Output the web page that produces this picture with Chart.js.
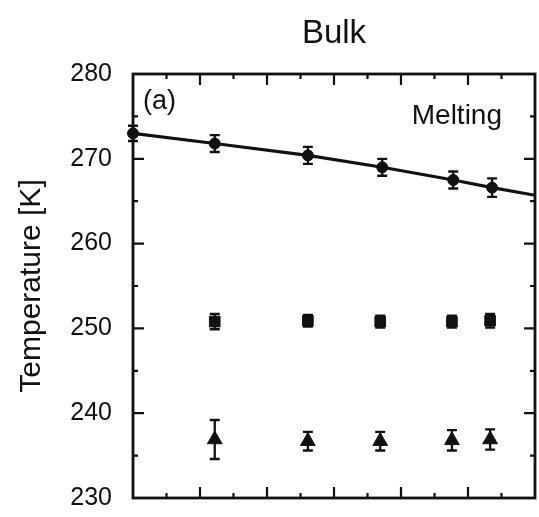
<!DOCTYPE html>
<html>
<head>
<meta charset="utf-8">
<script src="https://cdn.jsdelivr.net/npm/chart.js@4/dist/chart.umd.min.js"></script>
<style>
html, body { margin: 0; padding: 0; background: #fff; }
#wrap { width: 539px; height: 517px; }
</style>
</head>
<body>
<div id="wrap"><canvas id="grafica"></canvas></div>
<script>
// posiciones en x (el eje no tiene etiquetas en la figura)
var xFusion = [0, 1.22, 2.61, 3.72, 4.78, 5.36];
var tFusion = [273.0, 271.8, 270.4, 269.0, 267.5, 266.6];
var errFusion = [0.9, 1.0, 1.0, 1.0, 1.0, 1.1];

// linea que pasa por los puntos de fusion hasta el borde
var xLinea = [0, 1.22, 2.61, 3.72, 4.78, 5.36, 6];
var tLinea = [273.0, 271.8, 270.4, 269.0, 267.5, 266.6, 265.7];

var xOtros = [1.22, 2.61, 3.69, 4.76, 5.33];
var tCuadros = [250.8, 250.9, 250.8, 250.8, 250.9];
var errCuadros = [0.9, 0.7, 0.7, 0.7, 0.8];
var tTriang = [236.9, 236.7, 236.7, 236.8, 236.9];
var errTriang = [2.3, 1.1, 1.1, 1.2, 1.2];

// marcas de los ejes
var xMayores = [1, 2, 3, 4, 5];
var xMenores = [0.5, 1.5, 2.5, 3.5, 4.5, 5.5];
var yMayores = [240, 250, 260, 270];
var yMenores = [235, 245, 255, 265, 275];

var FUENTE = '"Liberation Sans", Arial, sans-serif';

// junta dos listas en puntos {x, y}
function puntos(xs, ys) {
    var lista = [];
    for (var i = 0; i < xs.length; i++) {
        lista.push({ x: xs[i], y: ys[i] });
    }
    return lista;
}

// barras de error con tapas
function dibujarErrores(c, sx, sy, xs, ys, errs, tapa) {
    for (var i = 0; i < xs.length; i++) {
        var px = sx.getPixelForValue(xs[i]);
        var arriba = sy.getPixelForValue(ys[i] + errs[i]);
        var abajo = sy.getPixelForValue(ys[i] - errs[i]);
        c.beginPath();
        c.moveTo(px, arriba); c.lineTo(px, abajo);
        c.moveTo(px - tapa, arriba); c.lineTo(px + tapa, arriba);
        c.moveTo(px - tapa, abajo); c.lineTo(px + tapa, abajo);
        c.stroke();
    }
}

var pluginMarco = {
    id: 'marco',
    afterDatasetsDraw: function (chart) {
        var c = chart.ctx, a = chart.chartArea;
        var sx = chart.scales.x, sy = chart.scales.y;
        c.save();
        c.strokeStyle = '#111';
        c.fillStyle = '#111';
        c.lineWidth = 2.3;
        dibujarErrores(c, sx, sy, xFusion, tFusion, errFusion, 5);
        dibujarErrores(c, sx, sy, xOtros, tCuadros, errCuadros, 5);
        dibujarErrores(c, sx, sy, xOtros, tTriang, errTriang, 5);

        // marco
        c.lineWidth = 2.8;
        c.strokeRect(a.left, a.top, a.right - a.left, a.bottom - a.top);

        // marcas hacia adentro
        c.lineWidth = 2.2;
        c.beginPath();
        var i, p;
        for (i = 0; i < xMayores.length; i++) {
            p = sx.getPixelForValue(xMayores[i]);
            c.moveTo(p, a.bottom); c.lineTo(p, a.bottom - 11);
            c.moveTo(p, a.top); c.lineTo(p, a.top + 11);
        }
        for (i = 0; i < xMenores.length; i++) {
            p = sx.getPixelForValue(xMenores[i]);
            c.moveTo(p, a.bottom); c.lineTo(p, a.bottom - 5);
            c.moveTo(p, a.top); c.lineTo(p, a.top + 5);
        }
        for (i = 0; i < yMayores.length; i++) {
            p = sy.getPixelForValue(yMayores[i]);
            c.moveTo(a.left, p); c.lineTo(a.left + 11, p);
            c.moveTo(a.right, p); c.lineTo(a.right - 11, p);
        }
        for (i = 0; i < yMenores.length; i++) {
            p = sy.getPixelForValue(yMenores[i]);
            c.moveTo(a.left, p); c.lineTo(a.left + 5, p);
            c.moveTo(a.right, p); c.lineTo(a.right - 5, p);
        }
        c.stroke();

        // textos dentro del grafico
        c.textBaseline = 'middle';
        c.font = '27px ' + FUENTE;
        c.textAlign = 'left';
        c.fillText('(a)', a.left + 10, a.top + 28);
        c.font = '28px ' + FUENTE;
        c.textAlign = 'right';
        c.fillText('Melting', a.right - 33, a.top + 42);
        c.restore();
    }
};

new Chart(document.getElementById('grafica'), {
    type: 'scatter',
    data: {
        datasets: [{
            label: 'linea',
            data: puntos(xLinea, tLinea),
            showLine: true,
            borderColor: '#111',
            borderWidth: 3.2,
            pointRadius: 0,
            fill: false
        }, {
            label: 'Melting',
            data: puntos(xFusion, tFusion),
            pointStyle: 'circle',
            pointRadius: 5.5,
            backgroundColor: '#111',
            borderColor: '#111',
            clip: false
        }, {
            label: 'cuadros',
            data: puntos(xOtros, tCuadros),
            pointStyle: 'rect',
            pointRadius: 7.5,
            backgroundColor: '#111',
            borderColor: '#111'
        }, {
            label: 'triangulos',
            data: puntos(xOtros, tTriang),
            pointStyle: 'triangle',
            pointRadius: 8.5,
            backgroundColor: '#111',
            borderColor: '#111'
        }]
    },
    options: {
        responsive: true,
        maintainAspectRatio: false,
        animation: false,
        layout: { autoPadding: false, padding: { left: 8, right: 4, top: 0, bottom: 0 } },
        plugins: {
            legend: { display: false },
            tooltip: { enabled: false },
            title: {
                display: true,
                text: 'Bulk',
                fullSize: false,
                color: '#111',
                font: { family: FUENTE, size: 33, weight: 'normal', lineHeight: 1.2 },
                padding: { top: 14, bottom: 20.4 }
            }
        },
        scales: {
            x: {
                type: 'linear',
                min: 0,
                max: 6,
                ticks: { display: false },
                grid: { display: false, drawTicks: false },
                border: { display: false },
                afterFit: function (s) { s.height = 19; }
            },
            y: {
                min: 230,
                max: 280,
                ticks: { stepSize: 10, padding: 21, color: '#111', font: { family: FUENTE, size: 25 } },
                grid: { display: false, drawTicks: false },
                border: { display: false },
                title: {
                    display: true,
                    text: 'Temperature [K]',
                    color: '#111',
                    font: { family: FUENTE, size: 30 },
                    padding: { top: 6, bottom: 0 }
                },
                afterFit: function (s) {
                    s.width = 125;
                    s.paddingTop = 0;
                    s.paddingBottom = 0;
                }
            }
        }
    },
    plugins: [pluginMarco]
});
</script>
</body>
</html>
